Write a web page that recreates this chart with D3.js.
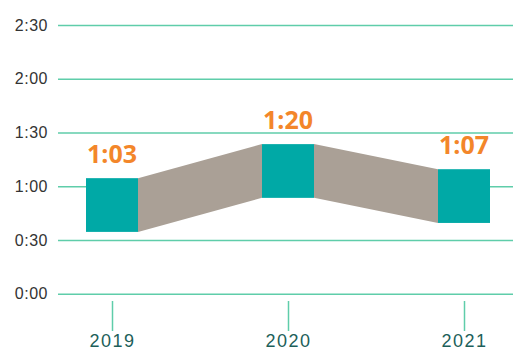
<!DOCTYPE html>
<html>
<head>
<meta charset="utf-8">
<script src="https://cdn.jsdelivr.net/npm/d3@7"></script>
<style>
  body { margin: 0; background: #fff; }
  svg { display: block; font-family: "Open Sans", Lato, sans-serif; }
</style>
</head>
<body>
<div id="canvas"></div>
<script>
// minutes
const years = ["2019", "2020", "2021"];
const labels = ["1:03", "1:20", "1:07"];
const low = [34.5, 53.5, 39.5];
const high = [64.5, 83.5, 69.5];
const yTicks = [0, 30, 60, 90, 120, 150];

const width = 513;
const height = 353;
const boxW = 52;

const svg = d3.select("#canvas").append("svg")
  .attr("width", width)
  .attr("height", height);

const y = d3.scaleLinear()
  .domain([0, 150])
  .range([293.7, 25]);

const x = d3.scalePoint()
  .domain(years)
  .range([112, 464]);

const fmt = m => Math.floor(m / 60) + ":" + String(m % 60).padStart(2, "0");

// grid + y labels
const gy = svg.append("g")
  .attr("transform", "translate(58,0)")
  .call(d3.axisLeft(y).tickValues(yTicks).tickFormat(fmt).tickSizeInner(-(width - 58)).tickSizeOuter(0).tickPadding(10));
gy.select(".domain").remove();
gy.selectAll(".tick line").attr("stroke", "#5fcdaa").attr("stroke-width", 1.5);
gy.selectAll(".tick text").attr("fill", "#333").style("font-size", "16px").attr("letter-spacing", "0.5px");

// x ticks
const gx = svg.append("g")
  .attr("transform", "translate(0,301)")
  .call(d3.axisBottom(x).tickSizeInner(30).tickSizeOuter(0).tickPadding(3));
gx.select(".domain").remove();
gx.selectAll(".tick line").attr("stroke", "#5fcdaa").attr("stroke-width", 1.5);
gx.selectAll(".tick text").attr("fill", "#1d5f5a").style("font-size", "18px").attr("letter-spacing", "1.5px");

const data = years.map((yr, i) => ({ yr, label: labels[i], lo: low[i], hi: high[i] }));

// grey bands between boxes
const pairs = d3.pairs(data);
svg.append("g").selectAll("path")
  .data(pairs)
  .join("path")
  .attr("fill", "#aaa096")
  .attr("d", ([a, b]) => {
    const x0 = x(a.yr) + boxW / 2, x1 = x(b.yr) - boxW / 2;
    return `M${x0},${y(a.hi)}L${x1},${y(b.hi)}L${x1},${y(b.lo)}L${x0},${y(a.lo)}Z`;
  });

// boxes
svg.append("g").selectAll("rect")
  .data(data)
  .join("rect")
  .attr("fill", "#00a9a6")
  .attr("x", d => x(d.yr) - boxW / 2)
  .attr("width", boxW)
  .attr("y", d => y(d.hi))
  .attr("height", d => y(d.lo) - y(d.hi));

// value labels
svg.append("g").selectAll("text")
  .data(data)
  .join("text")
  .attr("x", d => x(d.yr))
  .attr("y", d => y(d.hi) - 15)
  .attr("text-anchor", "middle")
  .attr("fill", "#f3862a")
  .style("font-size", "25px")
  .style("font-weight", "bold")
  .text(d => d.label);
</script>
</body>
</html>
